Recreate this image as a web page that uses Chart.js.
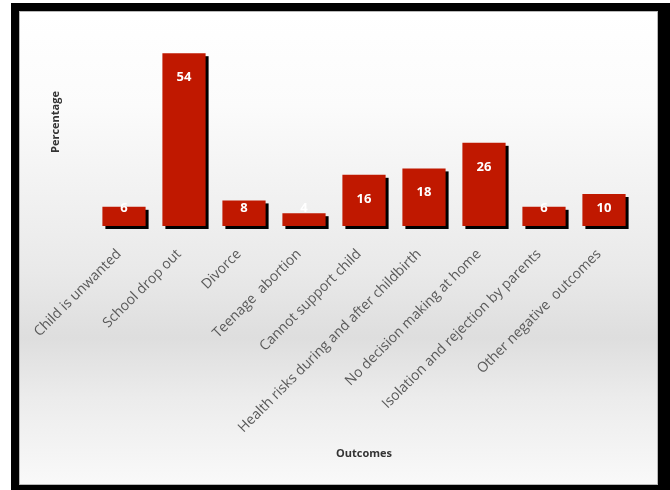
<!DOCTYPE html>
<html>
<head>
    <meta charset="UTF-8">
    <title>Negative outcomes</title>
    <script src="https://cdn.jsdelivr.net/npm/chart.js"></script>
    <style>
        body { margin: 0; background: #fff; }
        .frame { position: absolute; left: 11px; top: 3px; width: 659px; height: 487px; background: #000; }
        .panel {
            position: absolute; left: 19px; top: 11px; width: 637px; height: 472px;
            border: 1px solid #b8b8b8;
            background: linear-gradient(to bottom, #ffffff 0%, #fbfbfb 20%, #e9e9e9 55%, #dedede 69%, #ececec 82%, #f9f9f9 100%);
        }
        #wrap { position: absolute; left: 0; top: 0; width: 670px; height: 490px; }
    </style>
</head>
<body>
    <div class="frame"></div>
    <div class="panel"></div>
    <div id="wrap"><canvas id="myChart" width="670" height="490"></canvas></div>

    <script>
        const outcomes = ['Child is unwanted', 'School drop out', 'Divorce', 'Teenage  abortion',
            'Cannot support child', 'Health risks during and after childbirth',
            'No decision making at home', 'Isolation and rejection by parents', 'Other negative  outcomes'];
        const percentages = [6, 54, 8, 4, 16, 18, 26, 6, 10];

        // black drop shadow behind each bar
        const barShadow = {
            id: 'barShadow',
            beforeDatasetsDraw(chart) {
                const { ctx } = chart;
                ctx.save();
                ctx.fillStyle = '#000';
                chart.getDatasetMeta(0).data.forEach(bar => {
                    const w = bar.width;
                    ctx.fillRect(bar.x - w / 2 + 3, bar.y + 3, w, bar.base - bar.y);
                });
                ctx.restore();
            }
        };

        // white value labels near the top of each bar
        const valueLabels = {
            id: 'valueLabels',
            afterDatasetsDraw(chart) {
                const { ctx } = chart;
                ctx.save();
                ctx.fillStyle = '#fff';
                ctx.font = 'bold 13px "Open Sans"';
                ctx.textAlign = 'center';
                ctx.textBaseline = 'middle';
                chart.getDatasetMeta(0).data.forEach((bar, i) => {
                    const y = Math.min(bar.y + 24, bar.base - 18);
                    ctx.fillText(percentages[i], bar.x, y);
                });
                ctx.restore();
            }
        };

        new Chart(document.getElementById('myChart'), {
            type: 'bar',
            data: {
                labels: outcomes,
                datasets: [{
                    data: percentages,
                    backgroundColor: '#c01800',
                    borderWidth: 0,
                    barPercentage: 0.72,
                    categoryPercentage: 1
                }]
            },
            options: {
                responsive: false,
                animation: false,
                layout: { padding: { left: 45, top: 18, right: 36, bottom: 26 } },
                plugins: { legend: { display: false }, tooltip: { enabled: false } },
                scales: {
                    x: {
                        grid: { display: false, drawTicks: false },
                        border: { display: false },
                        ticks: {
                            minRotation: 45, maxRotation: 45, padding: 20, labelOffset: -5,
                            color: '#5a5a5a', font: { family: 'Open Sans', size: 14 }
                        },
                        title: {
                            display: true, text: 'Outcomes', color: '#333',
                            font: { family: 'Open Sans', size: 11, weight: 'bold' }
                        },
                        afterFit(scale) { scale.height = 238; }
                    },
                    y: {
                        min: 0, max: 65,
                        grid: { display: false, drawTicks: false },
                        border: { display: false },
                        ticks: { display: false },
                        title: {
                            display: true, text: 'Percentage', color: '#333',
                            font: { family: 'Open Sans', size: 11, weight: 'bold' }
                        },
                        afterFit(scale) { scale.width = 49; }
                    }
                }
            },
            plugins: [barShadow, valueLabels]
        });
    </script>
</body>
</html>
